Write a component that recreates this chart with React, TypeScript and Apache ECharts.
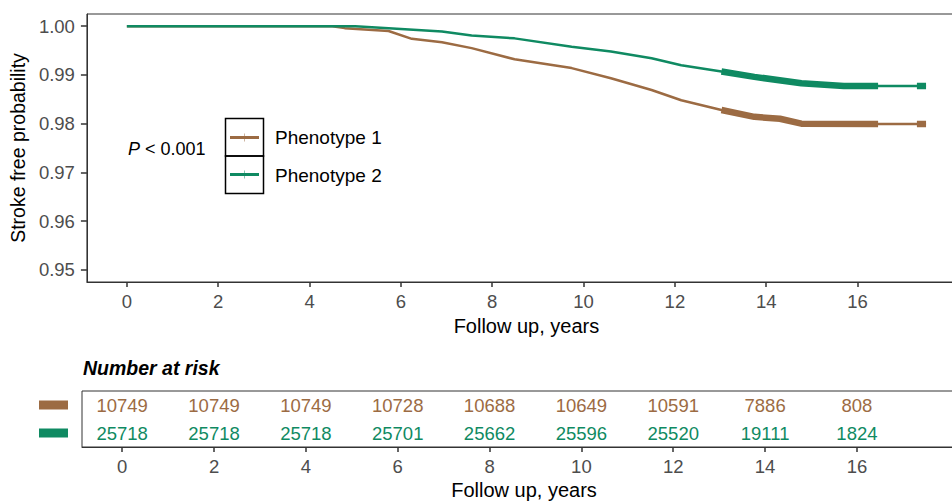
import React, { useEffect, useRef } from "react";
import * as echarts from "echarts";

const BROWN = "#9C6B43";
const GREEN = "#0F8A62";
const FONT = "'Liberation Sans', Arial, sans-serif";

const seriesNames = ["Phenotype 1", "Phenotype 2"];

// Kaplan–Meier curves
const p1Time = [0, 4.5, 4.77, 5.73, 6.24, 6.9, 7.55, 8.49, 9.74, 10.6, 11.49, 12.14, 13.02, 13.74, 14.3, 14.77, 16.45, 17.3, 17.5];
const p1Surv = [1.0, 1.0, 0.9996, 0.999, 0.9974, 0.9967, 0.9955, 0.9932, 0.9914, 0.9893, 0.9869, 0.9848, 0.9828, 0.9814, 0.981, 0.98, 0.9799, 0.9799, 0.9799];
const p2Time = [0, 5.0, 5.73, 6.9, 7.55, 8.49, 9.74, 10.6, 11.49, 12.14, 13.02, 13.74, 14.77, 15.7, 16.45, 17.3, 17.5];
const p2Surv = [1.0, 1.0, 0.9996, 0.9989, 0.9981, 0.9975, 0.9958, 0.9948, 0.9934, 0.992, 0.9907, 0.9896, 0.9883, 0.9877, 0.9877, 0.9877, 0.9877];

// spans where censor marks crowd into a thick band
const censorSpans = [
  [13.0, 16.45],
  [17.3, 17.5],
];

const xTicks = [0, 2, 4, 6, 8, 10, 12, 14, 16];
const yTicks = [0.95, 0.96, 0.97, 0.98, 0.99, 1.0];

const riskTimes = [0, 2, 4, 6, 8, 10, 12, 14, 16];
const riskP1 = [10749, 10749, 10749, 10728, 10688, 10649, 10591, 7886, 808];
const riskP2 = [25718, 25718, 25718, 25701, 25662, 25596, 25520, 19111, 1824];

const pValueText = "< 0.001";

function pairs(t: number[], s: number[]) {
  return t.map((x, i) => [x, s[i]]);
}

function bandSeries(t: number[], s: number[], color: string) {
  return censorSpans.map(([a, b]) => ({
    type: "line",
    xAxisIndex: 0,
    yAxisIndex: 0,
    data: pairs(t, s).filter((p) => p[0] >= a && p[0] <= b),
    showSymbol: false,
    symbol: "none",
    silent: true,
    lineStyle: { color, width: 6.5, cap: "butt" },
    z: 3,
  }));
}

export default function App() {
  const ref = useRef<HTMLDivElement>(null);

  useEffect(() => {
    if (!ref.current) return;
    const chart = echarts.init(ref.current, undefined, { renderer: "svg" });
    const xRange = { min: -0.875, max: 18.375 };

    const xAxisCommon = (gridIndex: number, nameGap: number) => ({
      type: "value",
      gridIndex,
      ...xRange,
      name: "Follow up, years",
      nameLocation: "middle",
      nameGap,
      nameTextStyle: { color: "#000", fontSize: 20, fontFamily: FONT },
      axisLine: { show: true, onZero: false, lineStyle: { color: "#333", width: 1 } },
      axisTick: { show: true, length: 5, customValues: xTicks, lineStyle: { color: "#333", width: 1.5 } },
      axisLabel: { customValues: xTicks, margin: 10, color: "#4D4D4D", fontSize: 18.5, fontFamily: FONT },
      splitLine: { show: false },
    });

    const riskLabel = (color: string) => ({
      show: true,
      position: "inside",
      formatter: (p: any) => String(p.value[2]),
      color,
      opacity: 1,
      textBorderWidth: 0,
      textBorderColor: "transparent",
      fontSize: 18.5,
      fontFamily: FONT,
    });

    const option: any = {
      animation: false,
      backgroundColor: "#ffffff",
      textStyle: { fontFamily: FONT },
      grid: [
        { left: 85, top: 14, width: 881, height: 268, show: true, borderColor: "#333", borderWidth: 1, backgroundColor: "transparent" },
        { left: 82, top: 391, width: 884, height: 56, show: true, borderColor: "#333", borderWidth: 1, backgroundColor: "transparent" },
      ],
      xAxis: [xAxisCommon(0, 32), xAxisCommon(1, 33)],
      yAxis: [
        {
          type: "value",
          gridIndex: 0,
          min: 0.9475,
          max: 1.0025,
          name: "Stroke free probability",
          nameLocation: "middle",
          nameGap: 56,
          nameTextStyle: { color: "#000", fontSize: 19.5, fontFamily: FONT },
          axisLine: { show: true, onZero: false, lineStyle: { color: "#333", width: 1 } },
          axisTick: { show: true, length: 6, customValues: yTicks, lineStyle: { color: "#333", width: 1.5 } },
          axisLabel: {
            customValues: yTicks,
            margin: 12,
            color: "#4D4D4D",
            fontSize: 18.5,
            fontFamily: FONT,
            formatter: (v: number) => v.toFixed(2),
          },
          splitLine: { show: false },
        },
        {
          type: "category",
          gridIndex: 1,
          data: [seriesNames[1], seriesNames[0]],
          axisLine: { show: false, onZero: false },
          axisTick: { show: false },
          splitLine: { show: false },
          axisLabel: {
            margin: 14,
            formatter: (v: string) => (v === seriesNames[0] ? "{a| }" : "{b| }"),
            rich: {
              a: { backgroundColor: BROWN, width: 29, height: 9, fontSize: 6, lineHeight: 9 },
              b: { backgroundColor: GREEN, width: 29, height: 9, fontSize: 6, lineHeight: 9 },
            },
          },
        },
      ],
      series: [
        {
          name: seriesNames[0],
          type: "line",
          xAxisIndex: 0,
          yAxisIndex: 0,
          data: pairs(p1Time, p1Surv),
          showSymbol: false,
          symbol: "none",
          lineStyle: { color: BROWN, width: 2.5 },
          z: 3,
        },
        {
          name: seriesNames[1],
          type: "line",
          xAxisIndex: 0,
          yAxisIndex: 0,
          data: pairs(p2Time, p2Surv),
          showSymbol: false,
          symbol: "none",
          lineStyle: { color: GREEN, width: 2.5 },
          z: 4,
        },
        ...bandSeries(p1Time, p1Surv, BROWN),
        ...bandSeries(p2Time, p2Surv, GREEN),
        {
          type: "scatter",
          xAxisIndex: 1,
          yAxisIndex: 1,
          data: riskTimes.map((t, i) => [t, seriesNames[0], riskP1[i]]),
          symbolSize: 1,
          itemStyle: { color: "rgba(0,0,0,0)" },
          label: riskLabel(BROWN),
          z: 5,
        },
        {
          type: "scatter",
          xAxisIndex: 1,
          yAxisIndex: 1,
          data: riskTimes.map((t, i) => [t, seriesNames[1], riskP2[i]]),
          symbolSize: 1,
          itemStyle: { color: "rgba(0,0,0,0)" },
          label: riskLabel(GREEN),
          z: 5,
        },
      ],
      graphic: [
        {
          type: "text",
          left: 128,
          top: 140,
          style: {
            text: "{i|P} " + pValueText,
            fill: "#000",
            fontSize: 18,
            fontFamily: FONT,
            rich: { i: { fontStyle: "italic", fontSize: 18, fontFamily: FONT, fill: "#000" } },
          },
        },
        { type: "rect", shape: { x: 225.5, y: 118.5, width: 38, height: 37.5 }, style: { fill: "none", stroke: "#000", lineWidth: 1.5 } },
        { type: "rect", shape: { x: 225.5, y: 156, width: 38, height: 37.5 }, style: { fill: "none", stroke: "#000", lineWidth: 1.5 } },
        { type: "line", shape: { x1: 230, y1: 137.5, x2: 259, y2: 137.5 }, style: { stroke: BROWN, lineWidth: 3 } },
        { type: "line", shape: { x1: 244.5, y1: 133.5, x2: 244.5, y2: 141.5 }, style: { stroke: BROWN, lineWidth: 1, opacity: 0.5 } },
        { type: "line", shape: { x1: 230, y1: 174.5, x2: 259, y2: 174.5 }, style: { stroke: GREEN, lineWidth: 3 } },
        { type: "line", shape: { x1: 244.5, y1: 170.5, x2: 244.5, y2: 178.5 }, style: { stroke: GREEN, lineWidth: 1, opacity: 0.5 } },
        {
          type: "text",
          x: 275,
          y: 137.5,
          style: { text: seriesNames[0], fill: "#000", fontSize: 19, fontFamily: FONT, verticalAlign: "middle" },
        },
        {
          type: "text",
          x: 275,
          y: 175,
          style: { text: seriesNames[1], fill: "#000", fontSize: 19, fontFamily: FONT, verticalAlign: "middle" },
        },
        {
          type: "text",
          x: 83,
          y: 368,
          style: { text: "Number at risk", fill: "#000", fontSize: 19.5, fontWeight: "bold", fontStyle: "italic", fontFamily: FONT, verticalAlign: "middle" },
        },
      ],
    };

    chart.setOption(option);
    return () => chart.dispose();
  }, []);

  return (
    <div style={{ position: "fixed", left: 0, top: 0, width: 952, height: 501, overflow: "hidden", background: "#fff" }}>
      <div ref={ref} style={{ position: "absolute", left: 0, top: 0, width: 1000, height: 501 }} />
    </div>
  );
}
